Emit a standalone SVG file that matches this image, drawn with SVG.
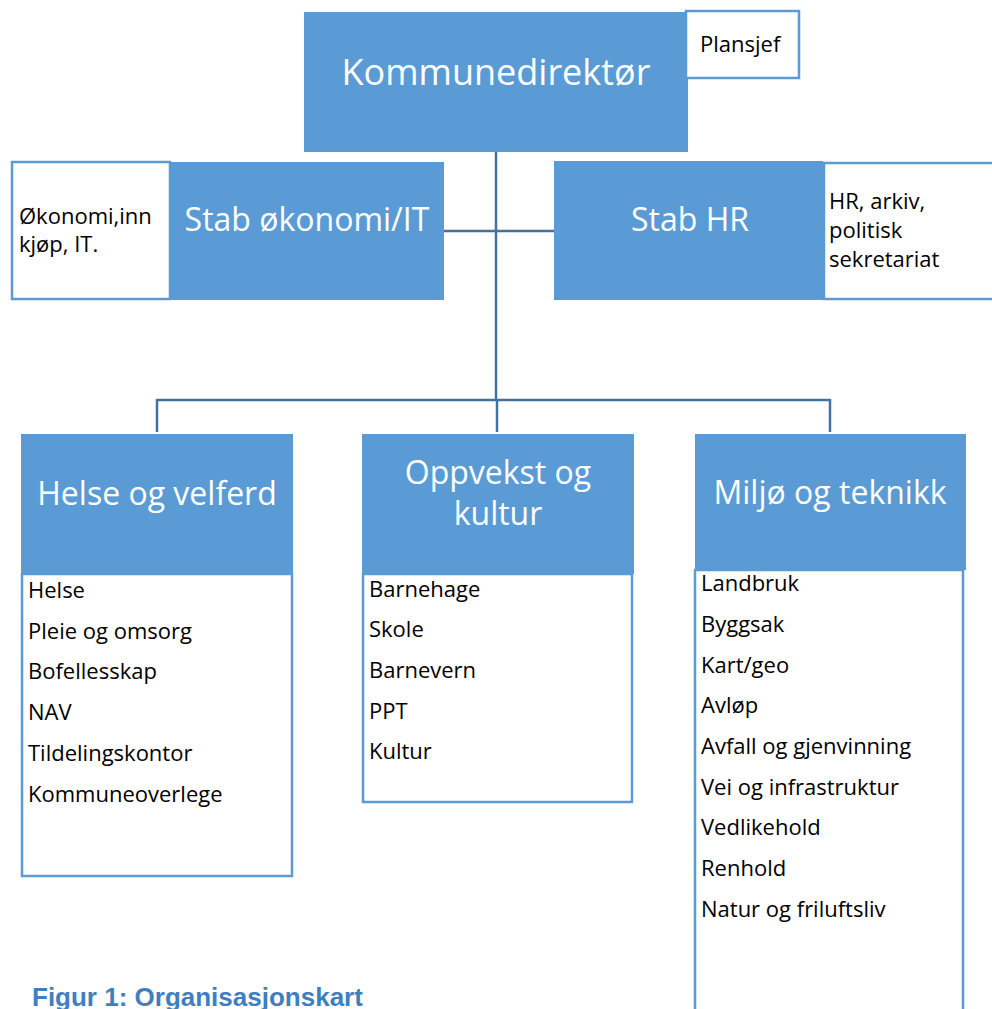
<svg xmlns="http://www.w3.org/2000/svg" width="992" height="1009" viewBox="0 0 992 1009">
<style>
.blue{fill:#5b9bd5;}
.wbox{fill:#ffffff;stroke:#5b9bd5;stroke-width:2.5;}
.conn{stroke:#41719c;stroke-width:2.5;fill:none;}
.head{font-family:"Open Sans",sans-serif;fill:#ffffff;text-anchor:middle;}
.item{font-family:"Open Sans",sans-serif;fill:#000000;font-size:22px;}
.cap{font-family:"Liberation Sans",Arial,sans-serif;font-weight:bold;fill:#3f7fbf;font-size:26px;}
</style>
<rect width="992" height="1009" fill="#ffffff"/>
<g id="connectors">
<line class="conn" x1="496" y1="152" x2="496" y2="400"/>
<line class="conn" x1="444" y1="231" x2="554" y2="231"/>
<line class="conn" x1="157" y1="400" x2="830" y2="400"/>
<line class="conn" x1="157" y1="399" x2="157" y2="432"/>
<line class="conn" x1="497" y1="399" x2="497" y2="432"/>
<line class="conn" x1="830" y1="399" x2="830" y2="432"/>
</g>
<g id="kommunedirektor">
<rect class="blue" x="304" y="12" width="384" height="140"/>
<text class="head" x="496" y="85" font-size="36">Kommunedirektør</text>
</g>
<g id="plansjef">
<rect class="wbox" x="686" y="11" width="113" height="67"/>
<text class="item" x="700" y="52">Plansjef</text>
</g>
<g id="stab-okonomi">
<rect class="wbox" x="12" y="162" width="158" height="137"/>
<text class="item" x="19" y="224">Økonomi,inn</text>
<text class="item" x="19" y="252">kjøp, IT.</text>
<rect class="blue" x="170" y="162" width="274" height="138"/>
<text class="head" x="307" y="231" font-size="32">Stab økonomi/IT</text>
</g>
<g id="stab-hr">
<rect class="wbox" x="824" y="163" width="180" height="136"/>
<text class="item" x="829" y="209">HR, arkiv,</text>
<text class="item" x="829" y="238">politisk</text>
<text class="item" x="829" y="267">sekretariat</text>
<rect class="blue" x="554" y="161" width="269" height="139"/>
<text class="head" x="690" y="231" font-size="32">Stab HR</text>
</g>
<g id="helse">
<rect class="wbox" x="22" y="574" width="270" height="302"/>
<rect class="blue" x="21" y="434" width="272" height="140"/>
<text class="head" x="157" y="505" font-size="32">Helse og velferd</text>
<text class="item" x="28" y="598">Helse</text>
<text class="item" x="28" y="639">Pleie og omsorg</text>
<text class="item" x="28" y="679">Bofellesskap</text>
<text class="item" x="28" y="720">NAV</text>
<text class="item" x="28" y="761">Tildelingskontor</text>
<text class="item" x="28" y="802">Kommuneoverlege</text>
</g>
<g id="oppvekst">
<rect class="wbox" x="363" y="574" width="269" height="228"/>
<rect class="blue" x="362" y="434" width="272" height="140"/>
<text class="head" x="498" y="484" font-size="32">Oppvekst og</text>
<text class="head" x="498" y="525" font-size="32">kultur</text>
<text class="item" x="369" y="597">Barnehage</text>
<text class="item" x="369" y="637">Skole</text>
<text class="item" x="369" y="678">Barnevern</text>
<text class="item" x="369" y="719">PPT</text>
<text class="item" x="369" y="759">Kultur</text>
</g>
<g id="miljo">
<rect class="wbox" x="695" y="570" width="268" height="460"/>
<rect class="blue" x="695" y="434" width="271" height="136"/>
<text class="head" x="830" y="504" font-size="32">Miljø og teknikk</text>
<text class="item" x="701" y="591">Landbruk</text>
<text class="item" x="701" y="632">Byggsak</text>
<text class="item" x="701" y="673">Kart/geo</text>
<text class="item" x="701" y="713">Avløp</text>
<text class="item" x="701" y="754">Avfall og gjenvinning</text>
<text class="item" x="701" y="795">Vei og infrastruktur</text>
<text class="item" x="701" y="835">Vedlikehold</text>
<text class="item" x="701" y="876">Renhold</text>
<text class="item" x="701" y="917">Natur og friluftsliv</text>
</g>
<text class="cap" x="32" y="1006">Figur 1: Organisasjonskart</text>
</svg>
